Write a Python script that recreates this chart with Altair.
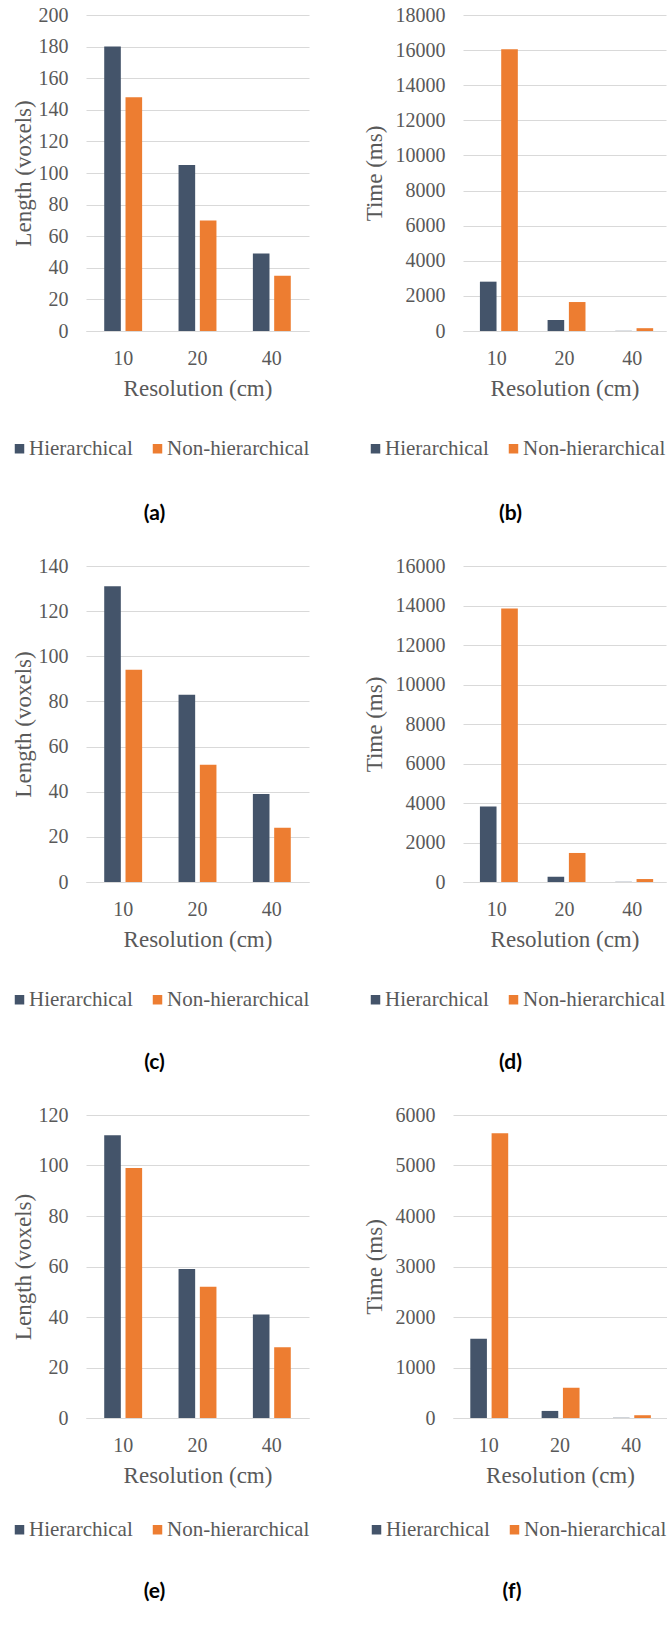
import altair as alt
import pandas as pd

# Resolutions on the x axis and the two methods compared
resolutions = ["10", "20", "40"]
methods = ["Hierarchical", "Non-hierarchical"]
method_colors = ["#44546A", "#ED7D31"]

# (a) path length, scene 1
length_a_hier = [180, 105, 49]
length_a_non = [148, 70, 35]
# (b) computation time, scene 1
time_b_hier = [2810, 630, 10]
time_b_non = [16050, 1650, 160]
# (c) path length, scene 2
length_c_hier = [131, 83, 39]
length_c_non = [94, 52, 24]
# (d) computation time, scene 2
time_d_hier = [3820, 260, 10]
time_d_non = [13850, 1470, 150]
# (e) path length, scene 3
length_e_hier = [112, 59, 41]
length_e_non = [99, 52, 28]
# (f) computation time, scene 3
time_f_hier = [1570, 140, 5]
time_f_non = [5640, 600, 55]

SERIF = "Liberation Serif"
GREY = "#595959"
GRID = "#D9D9D9"


def panel(hier, non, y_title, y_max, y_step, width, height, caption,
          cap_dx, cap_offset, legend_x, legend_y, pad_inner, title_pad):
    df = pd.DataFrame({
        "Resolution": resolutions + resolutions,
        "Method": [methods[0]] * 3 + [methods[1]] * 3,
        "Value": hier + non,
    })
    return alt.Chart(df).mark_bar().encode(
        x=alt.X(
            "Resolution:N", sort=resolutions,
            scale=alt.Scale(paddingInner=pad_inner, paddingOuter=pad_inner / 2),
            axis=alt.Axis(
                title="Resolution (cm)", labelAngle=0, ticks=False, tickSize=0,
                labelPadding=17, titlePadding=9, domainColor=GRID,
                grid=False,
            ),
        ),
        xOffset=alt.XOffset(
            "Method:N", sort=methods,
            scale=alt.Scale(paddingInner=0.22, paddingOuter=0),
        ),
        y=alt.Y(
            "Value:Q",
            scale=alt.Scale(domain=[0, y_max], nice=False),
            axis=alt.Axis(
                title=y_title, values=list(range(0, y_max + 1, y_step)),
                format="d", ticks=False, tickSize=0, domain=False,
                labelPadding=18, titlePadding=title_pad, gridColor=GRID,
            ),
        ),
        color=alt.Color(
            "Method:N",
            scale=alt.Scale(domain=methods, range=method_colors),
            legend=alt.Legend(
                orient="none", legendX=legend_x, legendY=legend_y,
                direction="horizontal", title=None, symbolType="square",
                symbolSize=90, symbolStrokeWidth=0, labelFont=SERIF,
                labelFontSize=21, labelColor=GREY, columnPadding=14,
                labelOffset={"expr": "-1"}, padding=0,
            ),
        ),
    ).properties(
        width=width, height=height,
        title=alt.TitleParams(
            text=caption, orient="bottom", anchor="middle", frame="group",
            dx=cap_dx, offset=cap_offset, font="Lato", fontSize=21,
            fontWeight="bold", color="black",
        ),
    )


pa = panel(length_a_hier, length_a_non, "Length (voxels)", 200, 20, 223, 316,
           "(a)", -43, 44, -77, 423, 0.49, 3)
pb = panel(time_b_hier, time_b_non, "Time (ms)", 18000, 2000, 203, 316,
           "(b)", -54, 44, -98, 423, 0.5, 9)
pc = panel(length_c_hier, length_c_non, "Length (voxels)", 140, 20, 223, 316,
           "(c)", -43, 42, -77, 423, 0.49, 3)
pd_ = panel(time_d_hier, time_d_non, "Time (ms)", 16000, 2000, 203, 316,
            "(d)", -54, 42, -98, 423, 0.5, 9)
pe = panel(length_e_hier, length_e_non, "Length (voxels)", 120, 20, 223, 303,
           "(e)", -43, 41, -77, 404, 0.49, 3)
pf = panel(time_f_hier, time_f_non, "Time (ms)", 6000, 1000, 214, 303,
           "(f)", -48, 41, -87, 404, 0.485, 9)


def row(left, right, gap):
    return alt.hconcat(left, right, spacing=gap, bounds="flush").resolve_scale(
        color="independent"
    ).resolve_legend(color="independent")


chart = alt.vconcat(
    row(pa, pb, 154),
    row(pc, pd_, 154),
    row(pe, pf, 144),
    spacing=32,
).resolve_scale(color="independent").resolve_legend(
    color="independent"
).properties(
    padding={"left": 9, "top": 5, "right": 0, "bottom": 0},
    background="white",
).configure_view(
    stroke=None
).configure_axis(
    labelFont=SERIF, labelFontSize=20, labelColor=GREY,
    titleFont=SERIF, titleFontSize=23, titleColor=GREY, titleFontWeight="normal",
)

chart.save("out.html", embed_options={"renderer": "svg", "actions": False})
